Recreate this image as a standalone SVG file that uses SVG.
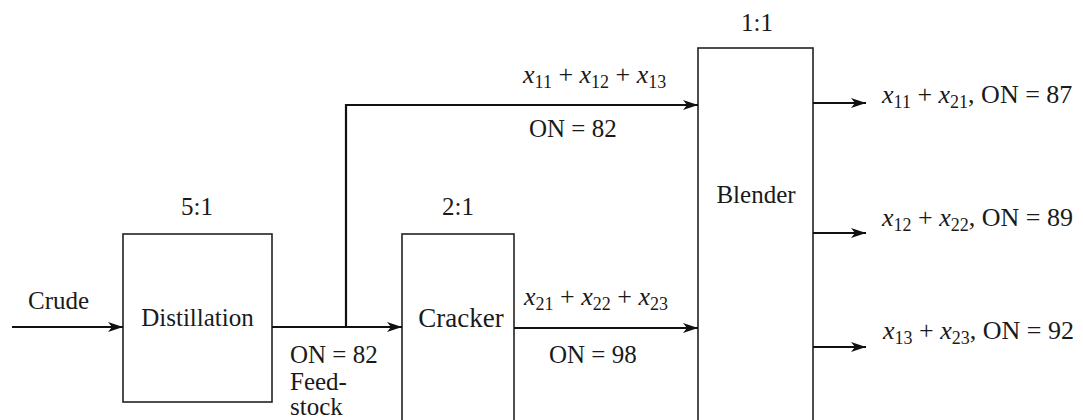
<svg xmlns="http://www.w3.org/2000/svg" width="1083" height="420" viewBox="0 0 1083 420">
<style>
  text { font-family: "Liberation Serif", "Times New Roman", serif; fill: #1a1a1a; }
  .lbl { font-size: 25px; }
  .m { font-size: 26px; }
  .box { fill: #ffffff; stroke: #222; stroke-width: 1.6; }
  .con { fill: none; stroke: #111; stroke-width: 2.2; }
  .i { font-style: italic; }
  .s { font-size: 18px; }
</style>
<defs>
  <marker id="ah" markerUnits="userSpaceOnUse" markerWidth="16" markerHeight="12" refX="15" refY="6" orient="auto">
    <path d="M0,1 L15,6 L0,11 L4,6 z" fill="#111"/>
  </marker>
</defs>
<rect width="1083" height="420" fill="#ffffff"/>

<g id="distillation">
  <rect class="box" x="123" y="234" width="149" height="168"/>
  <text class="lbl" x="197.5" y="326" text-anchor="middle">Distillation</text>
  <text class="lbl" x="197" y="215" text-anchor="middle">5:1</text>
</g>

<g id="cracker">
  <rect class="box" x="402" y="234" width="112" height="200"/>
  <text class="lbl" x="461" y="327" text-anchor="middle" style="font-size:27px">Cracker</text>
  <text class="lbl" x="458" y="215" text-anchor="middle">2:1</text>
</g>

<g id="blender">
  <rect class="box" x="698" y="48" width="115" height="390"/>
  <text class="lbl" x="756" y="203" text-anchor="middle">Blender</text>
  <text class="lbl" x="757" y="31" text-anchor="middle">1:1</text>
</g>

<g id="connectors">
  <line class="con" x1="12" y1="327" x2="123" y2="327" marker-end="url(#ah)"/>
  <line class="con" x1="272" y1="327" x2="402" y2="327" marker-end="url(#ah)"/>
  <polyline class="con" points="346,327 346,105 698,105" marker-end="url(#ah)"/>
  <line class="con" x1="514" y1="328" x2="698" y2="328" marker-end="url(#ah)"/>
  <line class="con" x1="813" y1="103" x2="866" y2="103" marker-end="url(#ah)"/>
  <line class="con" x1="813" y1="233" x2="866" y2="233" marker-end="url(#ah)"/>
  <line class="con" x1="813" y1="347" x2="866" y2="347" marker-end="url(#ah)"/>
</g>

<g id="labels">
  <text class="lbl" x="28" y="309">Crude</text>
  <text class="lbl" x="290" y="363">ON = 82</text>
  <text class="lbl" x="290" y="390">Feed-</text>
  <text class="lbl" x="290" y="415">stock</text>

  <text class="m" x="523" y="83"><tspan class="i">x</tspan><tspan class="s" dy="5">11</tspan><tspan dy="-5"> + </tspan><tspan class="i">x</tspan><tspan class="s" dy="5">12</tspan><tspan dy="-5"> + </tspan><tspan class="i">x</tspan><tspan class="s" dy="5">13</tspan></text>
  <text class="lbl" x="529" y="137">ON = 82</text>

  <text class="m" x="524" y="305"><tspan class="i">x</tspan><tspan class="s" dy="5">21</tspan><tspan dy="-5"> + </tspan><tspan class="i">x</tspan><tspan class="s" dy="5">22</tspan><tspan dy="-5"> + </tspan><tspan class="i">x</tspan><tspan class="s" dy="5">23</tspan></text>
  <text class="lbl" x="549" y="363">ON = 98</text>

  <text class="m" x="882" y="103"><tspan class="i">x</tspan><tspan class="s" dy="5">11</tspan><tspan dy="-5"> + </tspan><tspan class="i">x</tspan><tspan class="s" dy="5">21</tspan><tspan dy="-5">, ON = 87</tspan></text>
  <text class="m" x="882" y="226"><tspan class="i">x</tspan><tspan class="s" dy="5">12</tspan><tspan dy="-5"> + </tspan><tspan class="i">x</tspan><tspan class="s" dy="5">22</tspan><tspan dy="-5">, ON = 89</tspan></text>
  <text class="m" x="883" y="339"><tspan class="i">x</tspan><tspan class="s" dy="5">13</tspan><tspan dy="-5"> + </tspan><tspan class="i">x</tspan><tspan class="s" dy="5">23</tspan><tspan dy="-5">, ON = 92</tspan></text>
</g>
</svg>
